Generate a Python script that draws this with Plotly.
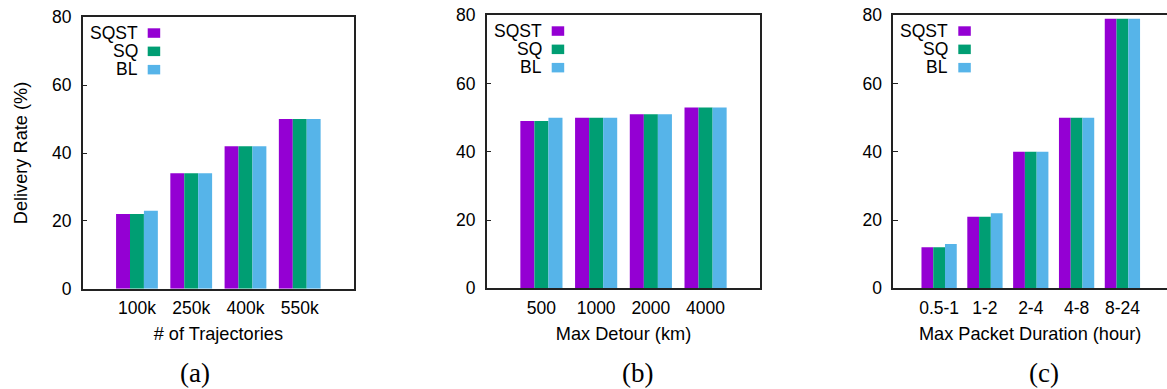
import plotly.graph_objects as go

# ---------------- data ----------------
series = ["SQST", "SQ", "BL"]
colors = ["#9400D3", "#009E73", "#56B4E9"]

cats_a = ["100k", "250k", "400k", "550k"]
sqst_a = [22, 34, 42, 50]
sq_a = [22, 34, 42, 50]
bl_a = [23, 34, 42, 50]

cats_b = ["500", "1000", "2000", "4000"]
sqst_b = [49, 50, 51, 53]
sq_b = [49, 50, 51, 53]
bl_b = [50, 50, 51, 53]

cats_c = ["0.5-1", "1-2", "2-4", "4-8", "8-24"]
sqst_c = [12, 21, 40, 50, 79]
sq_c = [12, 21, 40, 50, 79]
bl_c = [13, 22, 40, 50, 79]

xtitles = ["# of Trajectories", "Max Detour (km)", "Max Packet Duration (hour)"]
ytitle = "Delivery Rate (%)"
captions = ["(a)", "(b)", "(c)"]

# ---------------- layout geometry ----------------
W, H = 1167, 389
FONT = "Liberation Sans, Arial, Helvetica, sans-serif"
SERIF = "Liberation Serif, Times New Roman, serif"
LINE = "#222222"

panels = [
    dict(cats=cats_a, vals=[sqst_a, sq_a, bl_a], xdom=[82.7 / W, 354.0 / W],
         ydom=[1 - 288.7 / H, 1 - 17.3 / H], xr=[-1, 4], mirror_y=True, cap_x=195),
    dict(cats=cats_b, vals=[sqst_b, sq_b, bl_b], xdom=[486.7 / W, 760.3 / W],
         ydom=[1 - 288.3 / H, 1 - 15.3 / H], xr=[-1, 4], mirror_y=True, cap_x=637.5),
    dict(cats=cats_c, vals=[sqst_c, sq_c, bl_c], xdom=[893.3 / W, 1.0],
         ydom=[1 - 288.3 / H, 1 - 15.3 / H], xr=[-1, 4.973], mirror_y=False, cap_x=1044),
]

fig = go.Figure()
annotations = []
shapes = []

for p_i, p in enumerate(panels):
    sfx = "" if p_i == 0 else str(p_i + 1)
    xa, ya = "x" + sfx, "y" + sfx
    for s_i, name in enumerate(series):
        fig.add_trace(go.Bar(
            x=p["cats"], y=p["vals"][s_i], name=name,
            marker=dict(color=colors[s_i], line=dict(width=0)),
            xaxis=xa, yaxis=ya, showlegend=False,
        ))
    fig.layout["xaxis" + sfx] = dict(
        domain=p["xdom"], anchor=ya, type="category", range=p["xr"],
        automargin=False,
        showline=True, mirror=True, linecolor=LINE, linewidth=1.5,
        ticks="", showgrid=False, zeroline=False,
        tickfont=dict(family=FONT, size=17.5, color="black"),
        ticklabelstandoff=3,
        title=dict(text=xtitles[p_i], font=dict(family=FONT, size=18.2, color="black"),
                   standoff=10),
    )
    fig.layout["yaxis" + sfx] = dict(
        domain=p["ydom"], anchor=xa, range=[0, 80], dtick=20, tick0=0,
        automargin=False,
        showline=True, mirror=p["mirror_y"], linecolor=LINE, linewidth=1.5,
        ticks="inside", ticklen=5, tickwidth=1, tickcolor=LINE,
        showgrid=False, zeroline=False,
        tickfont=dict(family=FONT, size=17.5, color="black"),
        ticklabelstandoff=6,
        title=dict(text=ytitle if p_i == 0 else "",
                   font=dict(family=FONT, size=18.2, color="black"), standoff=20),
    )
    # in-plot legend: right-aligned text followed by colour swatch
    for s_i, name in enumerate(series):
        cy = -15.5 - 18.3 * s_i
        annotations.append(dict(
            xref=xa + " domain", yref=ya + " domain", x=0, y=1,
            xanchor="right", yanchor="middle", xshift=57, yshift=cy,
            text=name, showarrow=False,
            font=dict(family=FONT, size=17.5, color="black"),
        ))
        shapes.append(dict(
            type="rect", xref=xa + " domain", yref=ya + " domain",
            xsizemode="pixel", ysizemode="pixel", xanchor=0, yanchor=1,
            x0=65, x1=77.5, y0=cy - 5, y1=cy + 4.5,
            fillcolor=colors[s_i], line=dict(width=0),
        ))
    annotations.append(dict(
        xref="paper", yref="paper", x=p["cap_x"] / W, y=1 - 372.5 / H,
        xanchor="center", yanchor="middle", text=captions[p_i], showarrow=False,
        font=dict(family=SERIF, size=27, color="black"),
    ))

fig.update_layout(
    width=W, height=H, margin=dict(l=0, r=0, t=0, b=0),
    paper_bgcolor="white", plot_bgcolor="white",
    barmode="group", bargap=0.23, bargroupgap=0,
    annotations=annotations, shapes=shapes,
    font=dict(family=FONT, color="black"),
)

fig.write_html(
    "out.html",
    config={"displayModeBar": False},
    post_script="document.body.style.margin='0px';document.body.style.overflow='hidden';",
)
